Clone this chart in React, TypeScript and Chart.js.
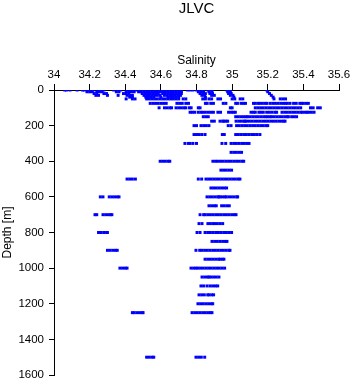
import React, { useEffect, useRef } from 'react';
import { Chart, registerables } from 'chart.js';

Chart.register(...registerables);

const chartTitle = 'JLVC';
const xTitle = 'Salinity';
const yTitle = 'Depth [m]';

const depths = [0, 10, 20, 30, 40, 50, 75, 100, 125, 150, 175, 200, 250, 300, 350, 400, 450, 500, 550, 600, 650, 700, 750, 800, 850, 900, 950, 1000, 1050, 1100, 1150, 1200, 1250, 1500];

const sal0 = [34.06, 34.07, 34.09, 34.13, 34.16, 34.17, 34.19, 34.205, 34.22, 34.255, 34.27, 34.28, 34.335, 34.36, 34.375, 34.41, 34.425, 34.44, 34.455, 34.47, 34.485, 34.5, 34.515, 34.53, 34.55, 34.565, 34.58, 34.595, 34.61, 34.625, 34.64, 34.655, 34.67, 34.685, 34.7, 34.715, 34.75, 34.765, 34.78, 34.8, 34.815, 34.83, 34.84, 34.865, 34.878, 34.89, 34.97, 34.985, 35.195];
const sal10 = [34.185, 34.2, 34.215, 34.24, 34.255, 34.27, 34.35, 34.365, 34.405, 34.42, 34.435, 34.45, 34.475, 34.49, 34.505, 34.52, 34.535, 34.55, 34.565, 34.58, 34.595, 34.61, 34.625, 34.64, 34.655, 34.67, 34.685, 34.7, 34.715, 34.81, 34.825, 34.84, 34.87, 34.885, 34.975, 34.99, 35.2];
const sal20 = [34.225, 34.24, 34.28, 34.295, 34.39, 34.405, 34.42, 34.495, 34.51, 34.525, 34.54, 34.555, 34.57, 34.585, 34.61, 34.625, 34.64, 34.655, 34.67, 34.685, 34.7, 34.715, 34.82, 34.835, 34.85, 34.875, 34.89, 34.98, 34.995, 35.21];
const sal30 = [34.235, 34.25, 34.3, 34.36, 34.41, 34.425, 34.44, 34.505, 34.52, 34.535, 34.55, 34.565, 34.58, 34.595, 34.62, 34.635, 34.65, 34.665, 34.68, 34.695, 34.71, 34.83, 34.845, 34.885, 34.9, 34.99, 35.005, 35.22];
const sal40 = [34.425, 34.44, 34.515, 34.53, 34.545, 34.56, 34.6, 34.64, 34.655, 34.67, 34.685, 34.7, 34.85, 35.01, 35.23];
const sal50 = [34.405, 34.44, 34.455, 34.52, 34.535, 34.55, 34.565, 34.58, 34.595, 34.61, 34.625, 34.64, 34.655, 34.67, 34.685, 34.7, 34.725, 34.74, 34.835, 34.85, 34.87, 34.885, 34.92, 34.935, 35.0, 35.015, 35.045, 35.06, 35.235, 35.27, 35.285, 35.3];
const sal75 = [34.54, 34.555, 34.57, 34.585, 34.6, 34.615, 34.63, 34.69, 34.705, 34.72, 34.74, 34.755, 34.85, 34.86, 34.88, 34.895, 34.95, 34.965, 35.02, 35.03, 35.05, 35.063, 35.075, 35.12, 35.13, 35.145, 35.155, 35.17, 35.185, 35.195, 35.213, 35.228, 35.243, 35.258, 35.273, 35.288, 35.3, 35.31, 35.325, 35.345, 35.36, 35.38, 35.39, 35.4, 35.415, 35.428];
const sal100 = [34.59, 34.62, 34.635, 34.65, 34.66, 34.685, 34.7, 34.715, 34.73, 34.74, 34.76, 34.77, 34.81, 34.82, 34.99, 35.0, 35.13, 35.145, 35.16, 35.175, 35.19, 35.205, 35.22, 35.235, 35.25, 35.265, 35.28, 35.295, 35.31, 35.325, 35.34, 35.355, 35.37, 35.385, 35.44, 35.455, 35.48, 35.495];
const sal125 = [34.764, 34.777, 34.79, 34.81, 34.825, 34.835, 34.85, 34.866, 34.88, 34.895, 34.92, 34.935, 34.98, 34.995, 35.006, 35.018, 35.106, 35.12, 35.13, 35.15, 35.162, 35.175, 35.194, 35.209, 35.224, 35.24, 35.25, 35.28, 35.295, 35.31, 35.325, 35.34, 35.355, 35.37, 35.385, 35.395, 35.41, 35.42, 35.43, 35.445, 35.46];
const sal150 = [34.838, 34.852, 34.866, 35.02, 35.035, 35.05, 35.064, 35.078, 35.087, 35.102, 35.117, 35.132, 35.147, 35.162, 35.177, 35.19, 35.2, 35.213, 35.222, 35.237, 35.252, 35.267, 35.282, 35.297, 35.31, 35.316, 35.334, 35.348, 35.362];
const sal175 = [34.885, 34.9, 34.932, 34.947, 34.954, 34.965, 34.975, 35.022, 35.037, 35.052, 35.067, 35.072, 35.082, 35.097, 35.112, 35.127, 35.142, 35.157, 35.172, 35.187, 35.202, 35.217, 35.232, 35.247, 35.262, 35.277, 35.29, 35.297];
const sal200 = [34.786, 34.8, 34.825, 34.84, 34.855, 34.87, 34.978, 34.994, 35.025, 35.04, 35.055, 35.07, 35.085, 35.1, 35.115, 35.13, 35.145, 35.16, 35.175, 35.19, 35.2];
const sal250 = [34.786, 34.8, 34.815, 34.83, 34.848, 34.945, 34.956, 35.02, 35.035, 35.05, 35.065, 35.08, 35.095, 35.11, 35.125, 35.14, 35.156];
const sal300 = [34.735, 34.754, 34.764, 34.78, 34.8, 34.943, 34.964, 34.994, 35.009, 35.024, 35.039, 35.054, 35.069, 35.084, 35.095];
const sal350 = [34.994, 35.009, 35.024, 35.039, 35.053];
const sal400 = [34.596, 34.61, 34.625, 34.64, 34.65, 34.892, 34.907, 34.92, 34.935, 34.95, 34.965, 34.98, 34.995, 35.01, 35.025, 35.04, 35.055, 35.065];
const sal450 = [34.937, 34.952, 34.967, 34.982, 34.997];
const sal500 = [34.41, 34.425, 34.44, 34.457, 34.81, 34.829, 34.853, 34.868, 34.883, 34.898, 34.913, 34.928, 34.943, 34.958, 34.973, 34.988, 35.003, 35.018, 35.033, 35.044];
const sal550 = [34.881, 34.896, 34.911, 34.926, 34.941, 34.956, 34.969];
const sal600 = [34.26, 34.275, 34.31, 34.325, 34.34, 34.355, 34.365, 34.859, 34.874, 34.889, 34.904, 34.919, 34.926, 34.932, 34.946, 34.96, 34.966, 34.981, 34.996, 35.011, 35.026, 35.031];
const sal650 = [34.87, 34.885, 34.9, 34.911, 34.941, 34.956, 34.971, 34.984];
const sal700 = [34.23, 34.24, 34.275, 34.29, 34.305, 34.318, 34.325, 34.82, 34.84, 34.848, 34.863, 34.878, 34.893, 34.908, 34.923, 34.938, 34.953, 34.968, 34.983, 34.998, 35.013, 35.022];
const sal750 = [34.814, 34.831, 34.864, 34.878, 34.893, 34.902, 34.917, 34.932, 34.947];
const sal800 = [34.25, 34.265, 34.28, 34.295, 34.3, 34.803, 34.82, 34.848, 34.863, 34.878, 34.893, 34.908, 34.923, 34.938, 34.953, 34.968, 34.983, 34.997];
const sal850 = [34.887, 34.902, 34.917, 34.932, 34.947, 34.962, 34.971];
const sal900 = [34.3, 34.315, 34.33, 34.345, 34.355, 34.797, 34.818, 34.831, 34.846, 34.861, 34.876, 34.891, 34.906, 34.921, 34.936, 34.951, 34.966, 34.981, 34.988];
const sal950 = [34.848, 34.863, 34.878, 34.893, 34.908, 34.924, 34.932, 34.945, 34.954];
const sal1000 = [34.37, 34.385, 34.4, 34.41, 34.769, 34.784, 34.797, 34.808, 34.823, 34.838, 34.853, 34.868, 34.883, 34.898, 34.913, 34.928, 34.943, 34.958];
const sal1050 = [34.831, 34.846, 34.861, 34.87, 34.881, 34.896, 34.911, 34.926];
const sal1100 = [34.825, 34.84, 34.859, 34.876, 34.891, 34.906, 34.919];
const sal1150 = [34.814, 34.829, 34.844, 34.863, 34.87, 34.885, 34.896];
const sal1200 = [34.808, 34.823, 34.838, 34.853, 34.868, 34.883, 34.891];
const sal1250 = [34.44, 34.45, 34.465, 34.48, 34.495, 34.5, 34.775, 34.79, 34.805, 34.82, 34.835, 34.85, 34.865, 34.878, 34.887];
const sal1500 = [34.52, 34.535, 34.55, 34.56, 34.797, 34.812, 34.827, 34.846];

const salinityRows = [sal0, sal10, sal20, sal30, sal40, sal50, sal75, sal100, sal125, sal150, sal175, sal200, sal250, sal300, sal350, sal400, sal450, sal500, sal550, sal600, sal650, sal700, sal750, sal800, sal850, sal900, sal950, sal1000, sal1050, sal1100, sal1150, sal1200, sal1250, sal1500];

const FONT = '"Liberation Sans", Arial, Helvetica, sans-serif';

export default function App() {
  const ref = useRef<HTMLCanvasElement>(null);

  useEffect(() => {
    if (!ref.current) return;
    const points = depths.flatMap((d, i) => salinityRows[i].map((s) => ({ x: s, y: d })));

    const titlePlugin = {
      id: 'topTitle',
      afterDraw(chart: any) {
        const { ctx, chartArea } = chart;
        ctx.save();
        ctx.font = `15px ${FONT}`;
        ctx.fillStyle = '#000';
        ctx.textAlign = 'center';
        ctx.textBaseline = 'middle';
        ctx.fillText(chartTitle, (chartArea.left + chartArea.right) / 2, 8.5);
        ctx.restore();
      },
    };

    const chart = new Chart(ref.current, {
      type: 'scatter',
      data: {
        datasets: [
          {
            data: points,
            backgroundColor: '#0000ff',
            borderColor: '#0000ff',
            borderWidth: 0,
            pointStyle: 'rect',
            pointRadius: 2.1,
            pointHoverRadius: 2.1,
          },
        ],
      },
      options: {
        animation: false,
        responsive: false,
        devicePixelRatio: 1,
        events: [],
        color: '#000',
        layout: { padding: { top: 0, left: 0, right: 14, bottom: 9 } },
        plugins: {
          legend: { display: false },
          tooltip: { enabled: false },
          title: { display: false },
        },
        scales: {
          x: {
            type: 'linear',
            position: 'top',
            min: 34,
            max: 35.6,
            afterFit: (scale: any) => {
              scale.height = 90;
            },
            ticks: {
              stepSize: 0.2,
              autoSkip: false,
              maxRotation: 0,
              padding: 2,
              color: '#000',
              font: { family: FONT, size: 11.5 },
              callback: (v: any) => String(Number(Number(v).toFixed(1))),
            },
            grid: { drawOnChartArea: false, tickLength: 6, color: '#000', lineWidth: 1 },
            border: { color: '#000', width: 1 },
            title: {
              display: true,
              text: xTitle,
              color: '#000',
              font: { family: FONT, size: 12 },
              padding: { top: 53, bottom: 0 },
            },
          },
          y: {
            type: 'linear',
            position: 'left',
            reverse: true,
            min: 0,
            max: 1600,
            afterFit: (scale: any) => {
              scale.width = 54;
              scale.paddingTop = 0;
              scale.paddingBottom = 0;
            },
            ticks: {
              stepSize: 200,
              autoSkip: false,
              padding: 5,
              color: '#000',
              font: { family: FONT, size: 11.5 },
              callback: (v: any) => String(Math.round(Number(v))),
            },
            grid: { drawOnChartArea: false, tickLength: 5, color: '#000', lineWidth: 1 },
            border: { color: '#000', width: 1 },
            title: {
              display: true,
              text: yTitle,
              color: '#000',
              font: { family: FONT, size: 12 },
              padding: { top: 0, bottom: 0 },
            },
          },
        },
      },
      plugins: [titlePlugin],
    });

    return () => chart.destroy();
  }, []);

  return (
    <div style={{ position: 'fixed', left: 0, top: 0, width: 353, height: 384, background: '#fff' }}>
      <canvas ref={ref} width={353} height={384} style={{ display: 'block', width: 353, height: 384 }} />
    </div>
  );
}
